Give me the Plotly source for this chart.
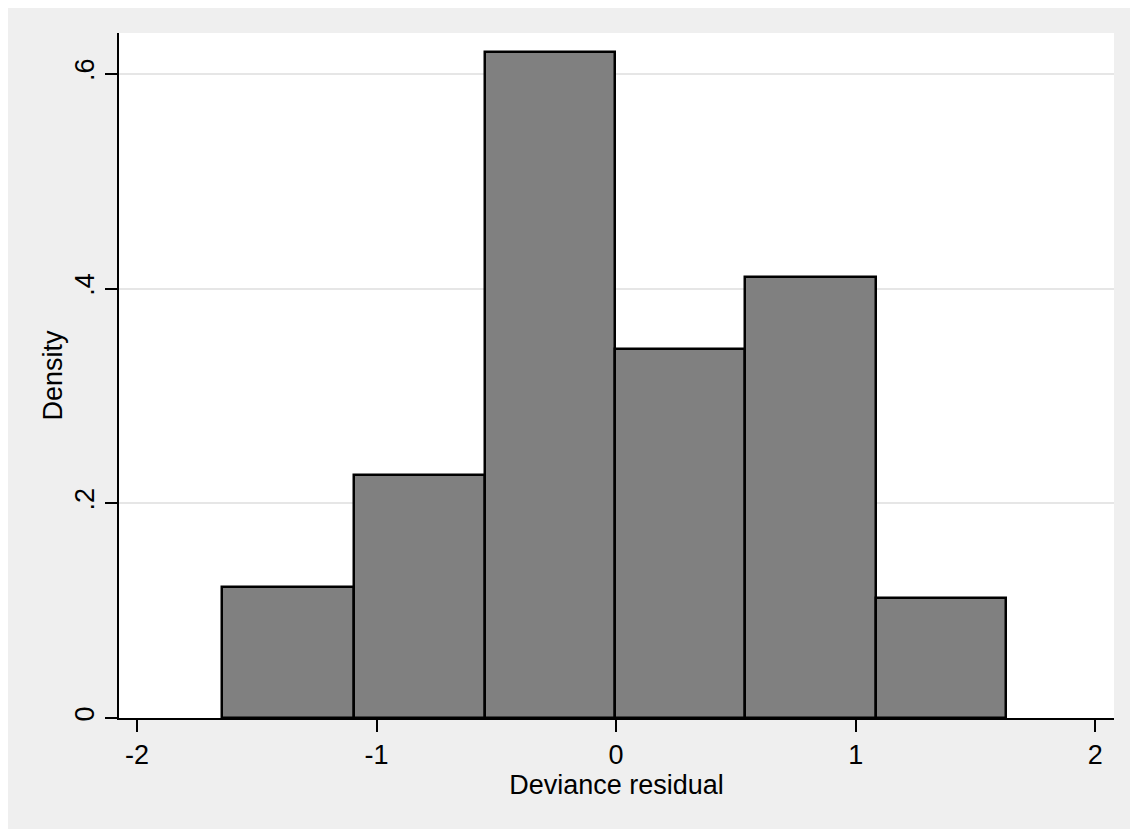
import plotly.graph_objects as go

bin_edges = [-1.644, -1.095, -0.549, -0.006, 0.538, 1.084, 1.627]
density = [0.122, 0.2265, 0.6205, 0.344, 0.411, 0.112]
x_tick_vals = [-2, -1, 0, 1, 2]
x_tick_text = ["-2", "-1", "0", "1", "2"]
y_tick_vals = [0, 0.2, 0.4, 0.6]
y_tick_text = ["0", ".2", ".4", ".6"]

centers = [(a + b) / 2 for a, b in zip(bin_edges[:-1], bin_edges[1:])]
widths = [b - a for a, b in zip(bin_edges[:-1], bin_edges[1:])]

fig = go.Figure()
fig.add_trace(go.Bar(
    x=centers, y=density, width=widths,
    marker=dict(color="#808080", line=dict(color="black", width=2.5)),
    showlegend=False,
))

font_family = "Liberation Sans, Arial, sans-serif"
fs = 27
fig.update_layout(
    width=1138, height=829,
    paper_bgcolor="#efefef", plot_bgcolor="white",
    margin=dict(l=111, r=32, t=25, b=119),
    font=dict(family=font_family, size=fs, color="black"),
    bargap=0,
    xaxis=dict(
        range=[-2.075, 2.078], tickvals=x_tick_vals, ticktext=x_tick_text,
        ticks="outside", ticklen=12, tickwidth=1.5, tickcolor="black",
        showline=True, linecolor="black", linewidth=1.5,
        showgrid=False, zeroline=False,
        title=dict(text="Deviance residual", standoff=0, font=dict(size=fs)),
        tickfont=dict(size=fs),
    ),
    yaxis=dict(
        range=[0, 0.638], tickvals=y_tick_vals, ticktext=y_tick_text,
        ticks="outside", ticklen=12, tickwidth=1.5, tickcolor="black",
        tickangle=-90,
        showline=True, linecolor="black", linewidth=1.5,
        showgrid=True, gridcolor="#e6e6e6", gridwidth=2, zeroline=False,
        title=dict(text="Density", standoff=0, font=dict(size=fs)),
        tickfont=dict(size=fs),
    ),
)

fig.write_html("out.html")
